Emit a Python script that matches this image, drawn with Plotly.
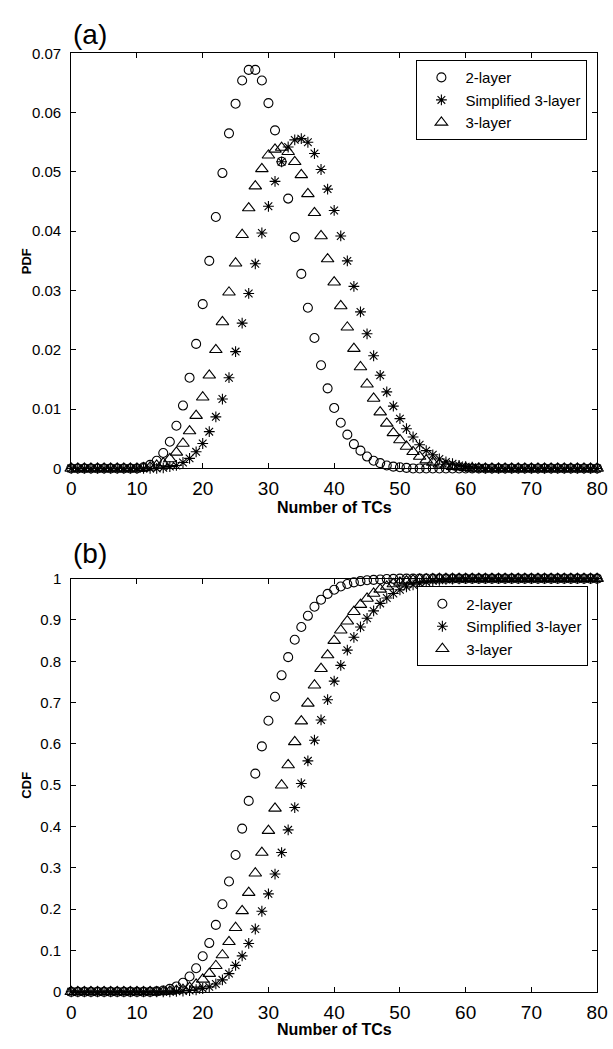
import plotly.graph_objects as go

tcs = list(range(0, 81))

pdf_2layer = [0]*11 + [0.0002, 0.0006, 0.0013, 0.0026, 0.0045, 0.0072, 0.0106, 0.0153, 0.0210,
    0.0277, 0.0350, 0.0424, 0.0498, 0.0565, 0.0615, 0.0654, 0.0672, 0.0672, 0.0654,
    0.0616, 0.0570, 0.0517, 0.0455, 0.0390, 0.0328, 0.0271, 0.0220, 0.0174, 0.0135,
    0.0102, 0.0077, 0.0057, 0.0041, 0.0030, 0.0020, 0.0013, 0.0009, 0.0005, 0.0003,
    0.0002, 0.0001] + [0]*29

pdf_simpl3 = [0]*14 + [0.0001, 0.0003, 0.0005, 0.0010, 0.0017, 0.0028,
    0.0042, 0.0062, 0.0087, 0.0117, 0.0153, 0.0197, 0.0245, 0.0295, 0.0345, 0.0397,
    0.0442, 0.0484, 0.0517, 0.0542, 0.0554, 0.0556, 0.0550, 0.0531, 0.0504, 0.0471,
    0.0435, 0.0392, 0.0350, 0.0307, 0.0264, 0.0227, 0.0190, 0.0157, 0.0129, 0.0105,
    0.0084, 0.0067, 0.0053, 0.0040, 0.0030, 0.0023, 0.0016, 0.0011, 0.0008, 0.0005,
    0.0003, 0.0002, 0.0001] + [0]*18

pdf_3layer = [0]*11 + [0.0001, 0.0002, 0.0005, 0.0009, 0.0016, 0.0027, 0.0042, 0.0063, 0.0089,
    0.0120, 0.0157, 0.0200, 0.0247, 0.0297, 0.0346, 0.0394, 0.0439, 0.0476, 0.0505,
    0.0528, 0.0538, 0.0541, 0.0534, 0.0517, 0.0495, 0.0463, 0.0431, 0.0392, 0.0353,
    0.0314, 0.0274, 0.0238, 0.0202, 0.0171, 0.0142, 0.0118, 0.0095, 0.0076, 0.0060,
    0.0048, 0.0037, 0.0028, 0.0020, 0.0014, 0.0010, 0.0007, 0.0005, 0.0003, 0.0002,
    0.0001] + [0]*20

cdf_2layer = [0]*13 + [0.001, 0.003, 0.007, 0.013, 0.022, 0.037, 0.057,
    0.086, 0.118, 0.162, 0.212, 0.267, 0.331, 0.395, 0.462, 0.528, 0.594,
    0.656, 0.714, 0.766, 0.810, 0.852, 0.883, 0.910, 0.932, 0.949, 0.963,
    0.973, 0.981, 0.987, 0.991, 0.994, 0.996, 0.997, 0.998, 0.999, 0.9995] + [1]*31

cdf_simpl3 = [0]*16 + [0.001, 0.002, 0.003, 0.005,
    0.008, 0.012, 0.019, 0.029, 0.044, 0.064, 0.087, 0.117, 0.152, 0.195,
    0.237, 0.285, 0.337, 0.392, 0.446, 0.504, 0.559, 0.609, 0.658, 0.707,
    0.752, 0.790, 0.827, 0.858, 0.883, 0.904, 0.922, 0.940, 0.953, 0.964,
    0.973, 0.980, 0.985, 0.989, 0.992, 0.995, 0.996, 0.998, 0.999, 0.9995] + [1]*21

cdf_3layer = [0]*14 + [0.0005, 0.001, 0.003, 0.005, 0.010, 0.018,
    0.030, 0.044, 0.063, 0.089, 0.121, 0.155, 0.196, 0.240, 0.287, 0.337,
    0.390, 0.444, 0.500, 0.549, 0.605, 0.655, 0.698, 0.742, 0.782, 0.815,
    0.850, 0.875, 0.897, 0.920, 0.937, 0.952, 0.964, 0.974, 0.981, 0.987,
    0.991, 0.994, 0.996, 0.998, 0.999, 0.9995] + [1]*25

series_names = ["2-layer", "Simplified 3-layer", "3-layer"]
x_ticks = [0, 10, 20, 30, 40, 50, 60, 70, 80]
pdf_ticks = [0, 0.01, 0.02, 0.03, 0.04, 0.05, 0.06, 0.07]
pdf_ticklabels = ["0", "0.01", "0.02", "0.03", "0.04", "0.05", "0.06", "0.07"]
cdf_ticks = [0, 0.1, 0.2, 0.3, 0.4, 0.5, 0.6, 0.7, 0.8, 0.9, 1]
cdf_ticklabels = ["0", "0.1", "0.2", "0.3", "0.4", "0.5", "0.6", "0.7", "0.8", "0.9", "1"]

W, H = 613, 1049
symbols = ["circle-open", "asterisk-open", "triangle-up-open"]
sizes = [9, 9, 11]

fig = go.Figure()
pdfs = [pdf_2layer, pdf_simpl3, pdf_3layer]
cdfs = [cdf_2layer, cdf_simpl3, cdf_3layer]
for i in range(3):
    fig.add_trace(go.Scatter(
        x=tcs, y=pdfs[i], mode="markers", name=series_names[i],
        xaxis="x", yaxis="y", legend="legend", cliponaxis=False,
        marker=dict(symbol=symbols[i], size=sizes[i], color="black",
                    line=dict(color="black", width=1.1))))
for i in range(3):
    fig.add_trace(go.Scatter(
        x=tcs, y=cdfs[i], mode="markers", name=series_names[i],
        xaxis="x2", yaxis="y2", legend="legend2", cliponaxis=False,
        marker=dict(symbol=symbols[i], size=sizes[i], color="black",
                    line=dict(color="black", width=1.1))))

def px_x(p):
    return p / W

def px_y(p):
    return 1 - p / H

xdom = [px_x(68), px_x(608)]
top_dom = [px_y(467), px_y(45)]
bot_dom = [px_y(999), px_y(579)]

xtickfont = dict(family="Liberation Sans Narrow, Liberation Sans, Arial", size=19, color="black")
ytickfont = dict(family="Liberation Sans, Arial", size=15, color="black")

common_x = dict(range=[0, 80], tickvals=x_ticks, ticks="inside", ticklen=5,
                showline=True, linecolor="black", linewidth=1, mirror="ticks",
                showgrid=False, zeroline=False, tickfont=xtickfont,
                tickcolor="black", ticklabelstandoff=3, ticklabeloverflow="allow")
common_y = dict(ticks="inside", ticklen=5, showline=True, linecolor="black",
                linewidth=1, mirror="ticks", showgrid=False, zeroline=False,
                tickfont=ytickfont, tickcolor="black", ticklabelstandoff=6)

legend_font = dict(family="Liberation Sans, Arial", size=15, color="black")
fig.update_layout(
    width=W, height=H,
    margin=dict(l=0, r=0, t=0, b=0),
    paper_bgcolor="white", plot_bgcolor="white",
    xaxis=dict(domain=xdom, anchor="y", **common_x),
    yaxis=dict(domain=top_dom, anchor="x", range=[0, 0.07],
               tickvals=pdf_ticks, ticktext=pdf_ticklabels, **common_y),
    xaxis2=dict(domain=xdom, anchor="y2", **common_x),
    yaxis2=dict(domain=bot_dom, anchor="x2", range=[0, 1],
                tickvals=cdf_ticks, ticktext=cdf_ticklabels, **common_y),
    legend=dict(x=px_x(598), y=px_y(52), xanchor="right", yanchor="top",
                bordercolor="black", borderwidth=1, bgcolor="white",
                font=legend_font, tracegroupgap=0, itemwidth=38),
    legend2=dict(x=px_x(599), y=px_y(587), xanchor="right", yanchor="top",
                 bordercolor="black", borderwidth=1, bgcolor="white",
                 font=legend_font, tracegroupgap=0, itemwidth=38),
    showlegend=True,
)

title_font = dict(family="Liberation Sans, Arial", size=16, color="black")
ann = [
    dict(text="(a)", x=px_x(68), y=px_y(26), xanchor="left", yanchor="middle",
         font=dict(family="Liberation Sans, Arial", size=28, color="black")),
    dict(text="(b)", x=px_x(68), y=px_y(553), xanchor="left", yanchor="middle",
         font=dict(family="Liberation Sans, Arial", size=28, color="black")),
    dict(text="<b>Number of TCs</b>", x=px_x(338), y=px_y(507), xanchor="center",
         yanchor="middle", font=title_font),
    dict(text="<b>Number of TCs</b>", x=px_x(338), y=px_y(1037), xanchor="center",
         yanchor="middle", font=title_font),
    dict(text="<b>PDF</b>", x=px_x(22), y=px_y(256), xanchor="center", yanchor="middle",
         textangle=-90, font=dict(family="Liberation Sans, Arial", size=13, color="black")),
    dict(text="<b>CDF</b>", x=px_x(22), y=px_y(789), xanchor="center", yanchor="middle",
         textangle=-90, font=dict(family="Liberation Sans, Arial", size=13, color="black")),
]
for a in ann:
    a.update(xref="paper", yref="paper", showarrow=False)
fig.update_layout(annotations=ann)

fig.write_html("out.html", config={"displayModeBar": False},
               post_script="document.body.style.margin='0px';")
